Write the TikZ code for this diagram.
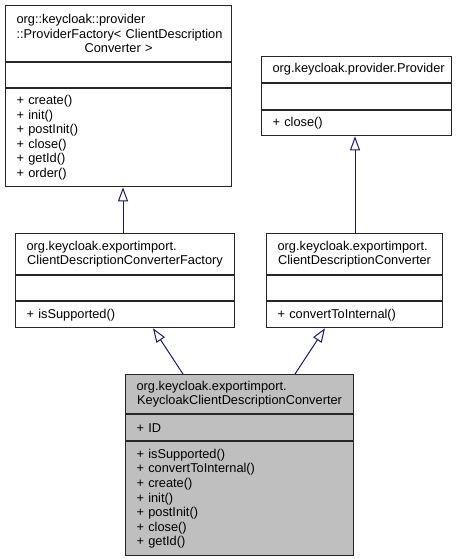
\documentclass[tikz,border=0pt]{standalone}
\usepackage{fontspec}
\setmainfont{Liberation Sans}
\usetikzlibrary{arrows.meta}
\definecolor{midnightblue}{RGB}{25,25,112}
\definecolor{kcgray}{RGB}{191,191,191}
\hyphenpenalty=10000
\hfuzz=50pt
\hbadness=10000

\begin{document}
\begin{tikzpicture}
  [x=1pt,y=-1pt,
   every node/.style={draw=black!85,line width=1.1pt,anchor=north west,inner xsep=11pt,inner ysep=1pt,
     font=\fontsize{12.8}{14.6}\selectfont},
   inherit/.style={draw=midnightblue,line width=1pt,-{Triangle[open,length=14pt,width=10pt]}}]
  \useasboundingbox (0,0) rectangle (461,559);

  % org::keycloak::provider::ProviderFactory
  \node (pf-t) [text width=204pt,minimum height=56] at (5,5)
    {{\raggedright org::keycloak::provider\\::ProviderFactory<~ClientDescription\par}\centering Converter >\par};
  \node (pf-a) [text width=204pt,minimum height=25] at (pf-t.south west) {};
  \node (pf-m) [text width=204pt,minimum height=98,align=left] at (pf-a.south west)
    {+ create()\\+ init()\\+ postInit()\\+ close()\\+ getId()\\+ order()};

  % org.keycloak.provider.Provider
  \node (pr-t) [text width=168pt,minimum height=26] at (261,56)
    {\centering org.keycloak.provider.Provider\par};
  \node (pr-a) [text width=168pt,minimum height=26] at (pr-t.south west) {};
  \node (pr-m) [text width=168pt,minimum height=25,align=left] at (pr-a.south west) {+ close()};

  % ClientDescriptionConverterFactory
  \node (cf-t) [text width=197pt,minimum height=41] at (15,233)
    {{\raggedright org.keycloak.exportimport.\par}\centering ClientDescriptionConverterFactory\par};
  \node (cf-a) [text width=197pt,minimum height=25] at (cf-t.south west) {};
  \node (cf-m) [text width=197pt,minimum height=26,align=left] at (cf-a.south west) {+ isSupported()};

  % ClientDescriptionConverter
  \node (cc-t) [text width=154pt,minimum height=41] at (266,233)
    {{\raggedright org.keycloak.exportimport.\par}\centering ClientDescriptionConverter\par};
  \node (cc-a) [text width=154pt,minimum height=25] at (cc-t.south west) {};
  \node (cc-m) [text width=154pt,minimum height=26,align=left] at (cc-a.south west) {+ convertToInternal()};

  % KeycloakClientDescriptionConverter
  \node (kc-t) [fill=kcgray,text width=206pt,minimum height=39] at (125,374)
    {{\raggedright org.keycloak.exportimport.\par}\centering KeycloakClientDescriptionConverter\par};
  \node (kc-a) [fill=kcgray,text width=206pt,minimum height=26,align=left] at (kc-t.south west) {+ ID};
  \node (kc-m) [fill=kcgray,text width=206pt,minimum height=114,align=left] at (kc-a.south west)
    {+ isSupported()\\+ convertToInternal()\\+ create()\\+ init()\\+ postInit()\\+ close()\\+ getId()};

  \foreach \a/\from/\b/\to in {58/kc-t.north west/138/cf-m.south west,
      170/kc-t.north west/59/cc-m.south west,
      108/cf-t.north west/118/pf-m.south west,
      89/cc-t.north west/94/pr-m.south west}
    \draw[inherit] ([xshift=\a]\from) -- ([xshift=\b]\to);

\end{tikzpicture}
\end{document}
